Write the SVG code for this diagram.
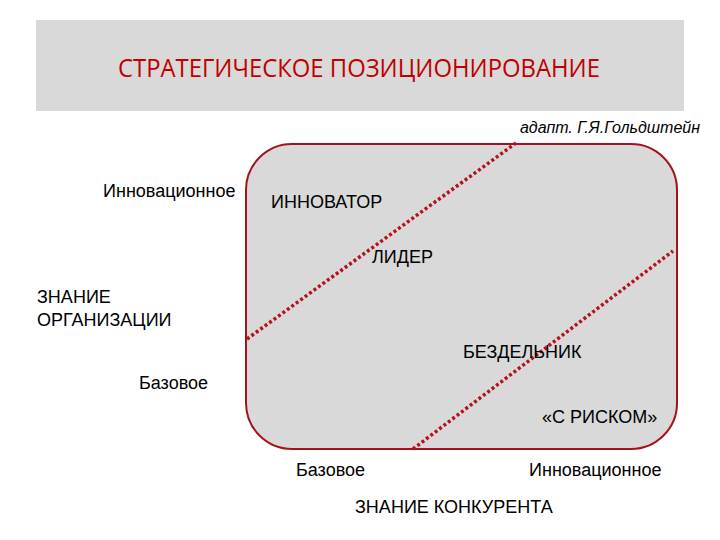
<svg xmlns="http://www.w3.org/2000/svg" width="720" height="540" viewBox="0 0 720 540">
<style>
.lbl{font-family:"Liberation Sans",Arial,sans-serif;font-size:18px;fill:#000}
.dots{stroke:#b5121b;stroke-width:3.5;stroke-dasharray:3 2.5;fill:none}
</style>
<rect width="720" height="540" fill="#fff"/>
<g id="title">
<rect x="36" y="20" width="648" height="91" fill="#d9d9d9"/>
<text x="118" y="77" textLength="482" lengthAdjust="spacingAndGlyphs" font-family="'Open Sans',sans-serif" font-size="25" fill="#c00000">СТРАТЕГИЧЕСКОЕ ПОЗИЦИОНИРОВАНИЕ</text>
</g>
<text x="700" y="133" text-anchor="end" font-family="'Liberation Sans',Arial,sans-serif" font-style="italic" font-size="16">адапт. Г.Я.Гольдштейн</text>
<g id="matrix">
<rect x="246" y="144" width="431" height="305" rx="46" ry="46" fill="#d9d9d9" stroke="#a5121b" stroke-width="2"/>
</g>
<g id="connectors">
<line class="dots" x1="247" y1="339" x2="516" y2="143"/>
<line class="dots" x1="413" y1="449" x2="673" y2="251"/>
</g>
<g id="labels">
<text class="lbl" x="103" y="197">Инновационное</text>
<text class="lbl" x="271" y="208">ИННОВАТОР</text>
<text class="lbl" x="372" y="263">ЛИДЕР</text>
<text class="lbl" x="37" y="303">ЗНАНИЕ</text>
<text class="lbl" x="37" y="326">ОРГАНИЗАЦИИ</text>
<text class="lbl" x="463" y="358">БЕЗДЕЛЬНИК</text>
<text class="lbl" x="139" y="389">Базовое</text>
<text class="lbl" x="542" y="423">«С РИСКОМ»</text>
<text class="lbl" x="296" y="476">Базовое</text>
<text class="lbl" x="529" y="476">Инновационное</text>
<text class="lbl" x="355" y="513">ЗНАНИЕ КОНКУРЕНТА</text>
</g>
</svg>
